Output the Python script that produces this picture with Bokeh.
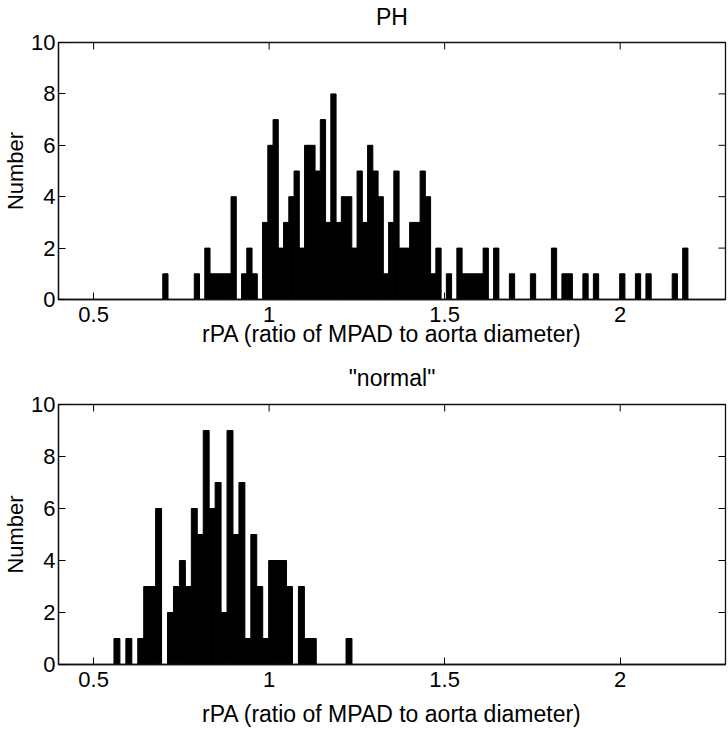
import math
import numpy as np
from bokeh.plotting import figure
from bokeh.models import Range1d, FixedTicker, ColumnDataSource, LinearAxis
from bokeh.layouts import column
from bokeh.embed import file_html
from bokeh.resources import INLINE

# ---- data ----
ph_title = "PH"
ph_range = (0.697, 2.193)          # histogram span (100 bins)
ph_counts = [1, 0, 0, 0, 0, 0, 1, 0, 2, 1,
             1, 1, 1, 4, 0, 1, 2, 1, 0, 3,
             6, 7, 2, 3, 4, 5, 2, 6, 6, 5,
             7, 3, 8, 3, 4, 4, 2, 5, 3, 6,
             5, 4, 1, 3, 5, 2, 2, 3, 3, 5,
             4, 1, 2, 0, 1, 0, 2, 1, 1, 1,
             1, 2, 0, 2, 0, 0, 1, 0, 0, 0,
             1, 0, 0, 0, 2, 0, 1, 1, 0, 0,
             1, 0, 1, 0, 0, 0, 0, 1, 0, 0,
             1, 0, 1, 0, 0, 0, 0, 1, 0, 2]

normal_title = '"normal"'
normal_range = (0.558, 1.236)      # histogram span (40 bins)
normal_counts = [1, 0, 1, 0, 1, 3, 3, 6, 0, 2,
                 3, 4, 3, 6, 5, 9, 6, 7, 2, 9,
                 5, 7, 1, 5, 3, 1, 4, 4, 4, 3,
                 0, 3, 1, 1, 0, 0, 0, 0, 0, 1]

x_lim = (0.4, 2.3)
y_lim = (0, 10)
x_ticks = [0.5, 1, 1.5, 2]
x_tick_labels = ["0.5", "1", "1.5", "2"]
y_ticks = [0, 2, 4, 6, 8, 10]
x_label = "rPA (ratio of MPAD to aorta diameter)"
y_label = "Number"

FONT = "Liberation Sans"


def hist_source(counts, lo, hi):
    edges = np.linspace(lo, hi, len(counts) + 1)
    c = np.array(counts, dtype=float)
    keep = c > 0
    return ColumnDataSource(dict(left=edges[:-1][keep], right=edges[1:][keep],
                                 top=c[keep], bottom=np.zeros(keep.sum())))


def style_axis(ax, ticks, labels=None):
    ax.ticker = FixedTicker(ticks=ticks)
    ax.major_tick_in = 7
    ax.major_tick_out = 0
    ax.minor_tick_in = 0
    ax.minor_tick_out = 0
    ax.major_tick_line_color = "black"
    ax.major_tick_line_width = 1
    ax.axis_line_color = "#111111"
    ax.axis_line_width = 1.3
    if labels is not None:
        ax.major_label_overrides = {t: l for t, l in zip(ticks, labels)}
    ax.major_label_text_font = FONT
    ax.major_label_text_font_size = "22px"
    ax.major_label_text_color = "black"


def make_hist(counts, rng, title, height, b_top, b_bottom, title_standoff, xl_standoff):
    p = figure(width=728, height=height, output_backend="svg", toolbar_location=None,
               x_range=Range1d(*x_lim), y_range=Range1d(*y_lim),
               min_border_left=58, min_border_right=3,
               min_border_top=b_top, min_border_bottom=b_bottom,
               background_fill_color="white", border_fill_color="white")
    p.grid.visible = False
    p.outline_line_color = "#111111"
    p.outline_line_width = 1.3

    xa = p.below[0]
    ya = p.left[0]

    p.quad(left="left", right="right", top="top", bottom="bottom",
           source=hist_source(counts, *rng),
           fill_color="black", line_color="black", line_width=1)

    # mirrored inward ticks on the top and right edges
    p.scatter(x=x_ticks, y=[y_lim[1]] * len(x_ticks), marker="dash",
              angle=math.pi / 2, size=14, line_color="black", line_width=1)
    p.scatter(x=[x_lim[1]] * len(y_ticks), y=y_ticks, marker="dash",
              size=14, line_color="black", line_width=1)

    style_axis(xa, x_ticks, x_tick_labels)
    xa.major_label_standoff = 7
    xa.axis_label = x_label
    xa.axis_label_text_font = FONT
    xa.axis_label_text_font_size = "23px"
    xa.axis_label_text_font_style = "normal"
    xa.axis_label_text_color = "black"
    xa.axis_label_standoff = xl_standoff

    style_axis(ya, y_ticks)
    ya.major_label_standoff = 3
    ya.axis_label = y_label
    ya.axis_label_text_font = FONT
    ya.axis_label_text_font_size = "22px"
    ya.axis_label_text_font_style = "normal"
    ya.axis_label_text_color = "black"
    ya.axis_label_standoff = 0

    # title drawn as the label of a tickless axis above the frame
    top_ax = LinearAxis(ticker=FixedTicker(ticks=[]), axis_label=title,
                        axis_line_color=None, major_tick_in=0, major_tick_out=0,
                        minor_tick_in=0, minor_tick_out=0,
                        major_label_standoff=0)
    top_ax.axis_label_text_font = FONT
    top_ax.axis_label_text_font_size = "23px"
    top_ax.axis_label_text_font_style = "normal"
    top_ax.axis_label_text_color = "black"
    top_ax.axis_label_standoff = title_standoff
    p.add_layout(top_ax, "above")
    return p


p1 = make_hist(ph_counts, ph_range, ph_title, 356, 41, 57, 13, -4)
p2 = make_hist(normal_counts, normal_range, normal_title, 378, 48, 70, 14, 11)

layout = column(p1, p2, spacing=0)
open("out.html", "w").write(file_html(layout, INLINE))
